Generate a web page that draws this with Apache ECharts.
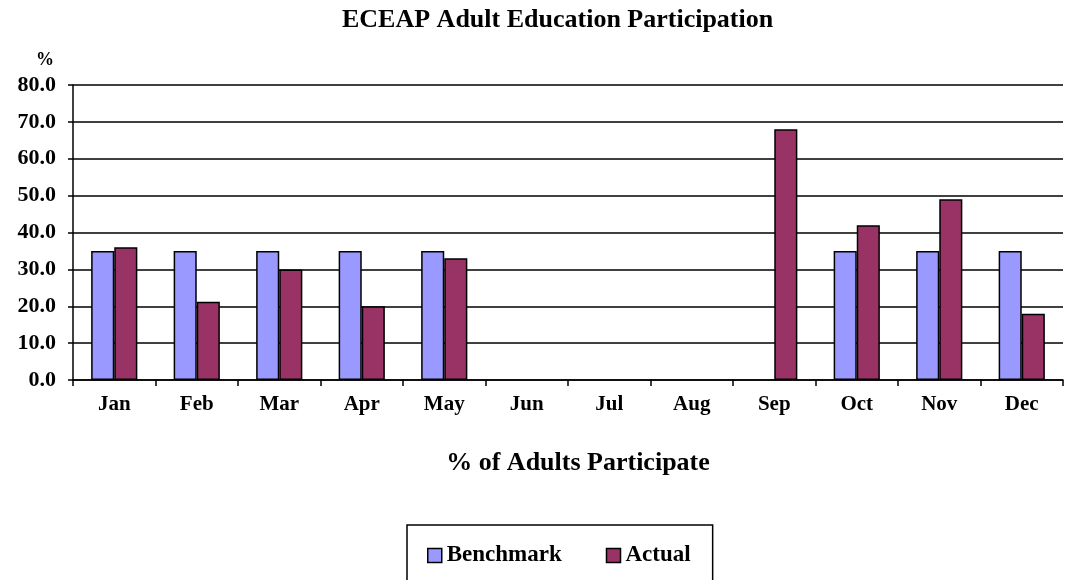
<!DOCTYPE html>
<html>
<head>
<meta charset="utf-8">
<script src="https://cdn.jsdelivr.net/npm/echarts@6/dist/echarts.min.js"></script>
<style>
  html, body { margin: 0; padding: 0; background: #fff; }
  #chart { width: 1068px; height: 580px; }
</style>
</head>
<body>
<div id="chart"></div>
<script>
// values
const months = ['Jan', 'Feb', 'Mar', 'Apr', 'May', 'Jun', 'Jul', 'Aug', 'Sep', 'Oct', 'Nov', 'Dec'];
const benchmark = [35, 35, 35, 35, 35, null, null, null, null, 35, 35, 35];
const actual = [36, 21.2, 30, 20, 33, null, null, null, 68, 42, 49, 18];
const yTicks = [0, 10, 20, 30, 40, 50, 60, 70, 80];

const font = 'Liberation Serif';
const chart = echarts.init(document.getElementById('chart'), null, { renderer: 'canvas' });

const option = {
  animation: false,
  backgroundColor: '#fff',
  title: {
    text: 'ECEAP Adult Education Participation',
    left: 337,
    top: 2,
    textStyle: { fontFamily: font, fontWeight: 'bold', fontSize: 26, color: '#000' }
  },
  legend: {
    data: ['Benchmark', 'Actual'],
    icon: 'rect',
    left: 407,
    top: 525,
    padding: [19, 22, 40, 20],
    itemGap: 44,
    itemWidth: 14,
    itemHeight: 14,
    borderColor: '#000',
    borderWidth: 1.5,
    itemStyle: { borderColor: '#000', borderWidth: 1.5 },
    textStyle: { fontFamily: font, fontWeight: 'bold', fontSize: 23, color: '#000' }
  },
  grid: { left: 73, right: 5, top: 85, bottom: 200 },
  xAxis: {
    type: 'category',
    data: months,
    name: '% of Adults Participate',
    nameLocation: 'middle',
    nameGap: 70,
    nameTextStyle: { fontFamily: font, fontWeight: 'bold', fontSize: 26, color: '#000', padding: [0, 0, 0, 20] },
    axisLine: { lineStyle: { color: '#000', width: 1.5 } },
    axisTick: { show: true, length: 6, lineStyle: { color: '#000', width: 1.5 } },
    axisLabel: { margin: 14, fontFamily: font, fontWeight: 'bold', fontSize: 21, color: '#000' }
  },
  yAxis: {
    type: 'value',
    min: yTicks[0],
    max: yTicks[yTicks.length - 1],
    interval: 10,
    name: '%',
    nameLocation: 'end',
    nameGap: 16,
    nameTextStyle: { fontFamily: font, fontWeight: 'bold', fontSize: 18, color: '#000', align: 'center', padding: [0, 56, 0, 0] },
    axisLine: { show: true, lineStyle: { color: '#000', width: 1.5 } },
    axisTick: { show: true, length: 5, lineStyle: { color: '#000', width: 1.5 } },
    axisLabel: {
      margin: 17,
      fontFamily: font, fontWeight: 'bold', fontSize: 22, color: '#000',
      formatter: v => v.toFixed(1)
    },
    splitLine: { show: true, lineStyle: { color: '#000', width: 1.5 } }
  },
  series: [
    {
      name: 'Benchmark',
      type: 'bar',
      data: benchmark,
      barGap: '0%',
      barCategoryGap: '44%',
      itemStyle: { color: '#9999ff', borderColor: '#000', borderWidth: 1.5 }
    },
    {
      name: 'Actual',
      type: 'bar',
      data: actual,
      itemStyle: { color: '#993366', borderColor: '#000', borderWidth: 1.5 }
    }
  ]
};

chart.setOption(option);
</script>
</body>
</html>
